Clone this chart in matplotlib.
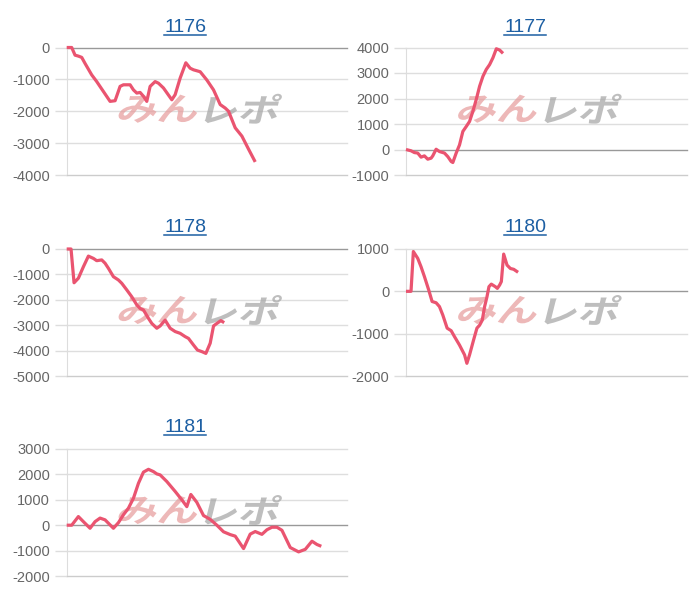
import matplotlib
matplotlib.use('Agg')
import matplotlib.pyplot as plt
from matplotlib.lines import Line2D
from matplotlib.textpath import TextPath
from matplotlib.patches import PathPatch
from matplotlib.font_manager import FontProperties
from matplotlib.transforms import Affine2D, ScaledTranslation

plt.rcParams['font.family'] = ['Liberation Sans', 'DejaVu Sans']

# machine numbers
titles = ['1176', '1177', '1178', '1180', '1181']

# games played / coin difference
games_1176 = [0, 150, 250, 350, 450, 550, 750, 900, 1100, 1300, 1450, 1600, 1700, 1900, 2000,
              2100, 2200, 2300, 2400, 2500, 2650, 2750, 2900, 3150, 3250, 3400, 3570, 3700,
              3800, 4000, 4200, 4400, 4600, 4750, 4850, 5050, 5250, 5450, 5650]
diff_1176 = [0, 0, -240, -270, -310, -500, -860, -1070, -1380, -1690, -1670, -1220, -1170, -1170,
             -1330, -1430, -1410, -1530, -1690, -1220, -1070, -1120, -1270, -1640, -1480, -960,
             -480, -650, -700, -760, -1020, -1330, -1790, -1900, -2000, -2520, -2780, -3190, -3590]

games_1177 = [0, 150, 250, 350, 450, 550, 650, 750, 800, 900, 1000, 1150, 1250, 1350, 1400,
              1500, 1600, 1700, 1800, 1900, 2000, 2100, 2200, 2300, 2400, 2500, 2600, 2700,
              2800, 2900]
diff_1177 = [0, -50, -120, -140, -300, -250, -380, -340, -250, 10, -80, -140, -280, -470, -510,
             -140, 180, 710, 900, 1100, 1500, 1960, 2480, 2870, 3140, 3330, 3600, 3950, 3900, 3770]

games_1178 = [0, 130, 220, 350, 500, 650, 800, 900, 1050, 1150, 1250, 1400, 1550, 1650, 1800,
              1950, 2100, 2200, 2300, 2450, 2550, 2700, 2800, 2950, 3100, 3250, 3400, 3550,
              3650, 3800, 3920, 4050, 4170, 4300, 4400, 4500, 4620, 4720]
diff_1178 = [0, 0, -1330, -1150, -700, -280, -370, -460, -430, -560, -760, -1090, -1220, -1350,
             -1610, -1880, -2200, -2340, -2400, -2730, -2930, -3120, -3030, -2800, -3120, -3250,
             -3320, -3450, -3520, -3780, -3980, -4040, -4110, -3710, -3030, -2930, -2820, -2900]

games_1180 = [0, 150, 220, 350, 450, 550, 680, 780, 900, 1000, 1100, 1230, 1350, 1450, 1600,
              1750, 1820, 1900, 2020, 2120, 2200, 2280, 2350, 2420, 2480, 2550, 2670, 2730,
              2800, 2850, 2920, 3020, 3120, 3220, 3350]
diff_1180 = [0, 0, 940, 780, 580, 350, 30, -240, -270, -360, -560, -870, -930, -1070, -1270,
             -1500, -1700, -1500, -1150, -870, -800, -680, -360, -130, 110, 170, 110, 70, 150,
             230, 880, 620, 540, 520, 450]

games_1181 = [0, 150, 350, 500, 700, 850, 1000, 1150, 1400, 1550, 1700, 1850, 2000, 2150, 2300,
              2450, 2600, 2700, 2800, 3000, 3250, 3450, 3600, 3720, 3900, 4100, 4300, 4500,
              4700, 4900, 5050, 5300, 5500, 5650, 5850, 6000, 6150, 6300, 6450, 6700, 6950,
              7150, 7350, 7500, 7630]
diff_1181 = [0, 0, 340, 140, -120, 140, 280, 210, -120, 100, 410, 670, 1060, 1650, 2090, 2200,
             2110, 2020, 1980, 1720, 1330, 1000, 730, 1210, 900, 380, 230, 0, -260, -370, -430,
             -920, -350, -250, -360, -180, -80, -80, -200, -880, -1050, -950, -630, -760, -830]

yticks = [
    [-4000, -3000, -2000, -1000, 0],
    [-1000, 0, 1000, 2000, 3000, 4000],
    [-5000, -4000, -3000, -2000, -1000, 0],
    [-2000, -1000, 0, 1000],
    [-2000, -1000, 0, 1000, 2000, 3000],
]
series = [(games_1176, diff_1176), (games_1177, diff_1177), (games_1178, diff_1178),
          (games_1180, diff_1180), (games_1181, diff_1181)]

max_games = 8400
line_color = '#ea5470'
title_color = '#1d5fa3'

fig = plt.figure(figsize=(7, 6), dpi=100)
W, H = 700, 600
cols = [(66.7, 347), (406, 687)]
rows = [(47.5, 175), (249, 376), (449, 576)]
title_x = [185, 525]

wm_font = FontProperties(family='Noto Sans CJK JP', weight='bold')


def watermark(ax, text, cx, cy, color, alpha):
    # slanted, slightly stretched logo text, sized in pixels
    tp = TextPath((0, 0), text, size=34, prop=wm_font)
    ext = tp.get_extents()
    t = (Affine2D().translate(-(ext.x0 + ext.x1) / 2, -(ext.y0 + ext.y1) / 2)
         .scale(1.2, 0.95).skew_deg(14, 0)
         + ScaledTranslation(cx, cy, ax.transAxes))
    ax.add_artist(PathPatch(tp, transform=t, facecolor=color, edgecolor='none',
                            alpha=alpha, zorder=2))


for i in range(5):
    r, c = divmod(i, 2)
    x0, x1 = cols[c]
    y0, y1 = rows[r]
    ax = fig.add_axes([x0 / W, 1 - y1 / H, (x1 - x0) / W, (y1 - y0) / H])
    ticks = yticks[i]
    ax.set_xlim(0, max_games)
    ax.set_ylim(ticks[0], ticks[-1])
    ax.set_yticks(ticks)
    ax.set_yticklabels([str(t) for t in ticks])
    ax.set_xticks([])
    ax.tick_params(axis='y', length=9, width=1, color='#dddddd', labelsize=10.5,
                   labelcolor='#666666', pad=3)
    for t in ticks:
        ax.axhline(t, color='#999999' if t == 0 else '#dedede', lw=1, zorder=1, clip_on=False)
    for s in ['top', 'right']:
        ax.spines[s].set_visible(False)
    ax.spines['left'].set_color('#dddddd')
    ax.spines['bottom'].set_color('#cccccc')

    watermark(ax, 'みん', 0.33, 0.52, '#e69a9a', 0.7)
    watermark(ax, 'レポ', 0.63, 0.52, '#a8a8a8', 0.75)

    g, d = series[i]
    ax.plot(g, d, color=line_color, lw=2.3, zorder=3, clip_on=False,
            solid_joinstyle='round', solid_capstyle='butt')

    # underlined title
    base = r * 200 + 32
    tx = fig.text(title_x[c] / W, 1 - base / H, titles[i], ha='center', va='baseline',
                  fontsize=14, color=title_color)
    renderer = fig.canvas.get_renderer()
    bb = tx.get_window_extent(renderer)
    uy = 1 - (base + 2.5) / H
    fig.add_artist(Line2D([bb.x0 / W, bb.x1 / W], [uy, uy], color=title_color, lw=1.1))

fig.savefig('out.png', dpi=100)
